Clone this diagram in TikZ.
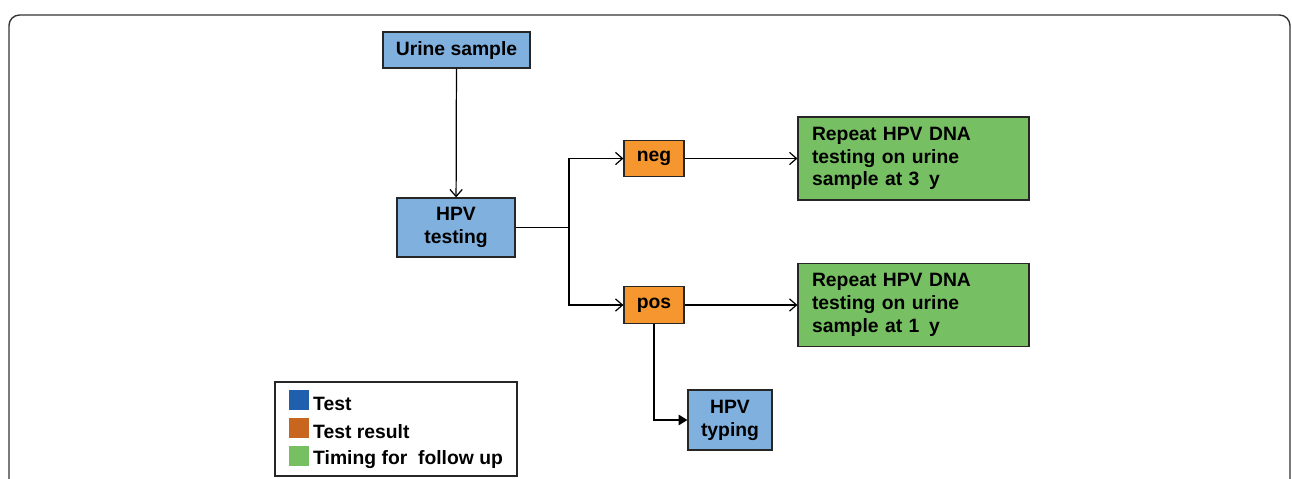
\documentclass[tikz,border=0pt]{standalone}
\usepackage{fontspec}
\setmainfont{Liberation Sans}
\usetikzlibrary{arrows.meta}
\definecolor{testblue}{HTML}{80B0DE}
\definecolor{resorange}{HTML}{F5962E}
\definecolor{timegreen}{HTML}{77BF63}
\definecolor{keyblue}{HTML}{1F5FAD}
\definecolor{keyorange}{HTML}{C8651E}
\begin{document}
\begin{tikzpicture}[x=0.02cm,y=-0.02cm,font=\bfseries\fontsize{11}{13}\selectfont,
  >={Straight Barb[length=4pt,width=7pt]},
  box/.style={draw=black!85,line width=0.7pt,align=center,inner sep=0pt},
  test/.style={box,fill=testblue},
  result/.style={box,fill=resorange,minimum width=1.2cm,minimum height=0.73cm},
  timing/.style={box,fill=timegreen,align=left,text width=4.06cm,inner xsep=0.28cm,minimum height=1.66cm},
  key/.style={minimum size=0.4cm,inner sep=0pt},
  conn/.style={line width=0.7pt}]
\useasboundingbox (0,0) rectangle (1292,478);
\clip (0,0) rectangle (1292,478);
\draw[rounded corners=6pt,line width=0.8pt,black!80] (9,15) rectangle (1290,530);
\node[test,minimum width=2.94cm,minimum height=0.72cm] (urine) at (456.5,50) {Urine sample};
\node[test,minimum width=2.36cm,minimum height=1.18cm] (hpvtest) at (456,227.5) {HPV\\testing};
\node[result] (neg) at (654,158.5) {neg};
\node[result] (pos) at (654,305) {pos};
\node[timing] (rep3) at (913.5,158.5) {Repeat HPV DNA\\testing on urine\\sample at 3\, y};
\node[timing] (rep1) at (913.5,305) {Repeat HPV DNA\\testing on urine\\sample at 1\, y};
\node[test,minimum width=1.68cm,minimum height=1.2cm] (typing) at (730,420) {HPV\\typing};
\coordinate (split) at (569,227.5);
\draw[conn,->] (urine) -- (hpvtest);
\draw[conn] (hpvtest) -- (split);
\draw[conn,->] (split) |- (neg);
\draw[conn,->] (split) |- (pos);
\draw[conn,->] (neg) -- (rep3);
\draw[conn,->] (pos) -- (rep1);
\draw[conn,-{Triangle[length=5pt,width=6pt]}] (pos) |- (typing);
% legend
\draw[line width=0.8pt,black!85] (275,382) rectangle (517,476);
\node[key,fill=keyblue] (k1) at (299,400) {};
\node[key,fill=keyorange] (k2) at (299,428) {};
\node[key,fill=timegreen] (k3) at (299,456) {};
\node[anchor=west,inner sep=2pt] at ([yshift=-2pt]k1.east) {Test};
\node[anchor=west,inner sep=2pt] at ([yshift=-2pt]k2.east) {Test result};
\node[anchor=west,inner sep=2pt] at ([yshift=-2pt]k3.east) {Timing for\ \ follow up};
\end{tikzpicture}
\end{document}
